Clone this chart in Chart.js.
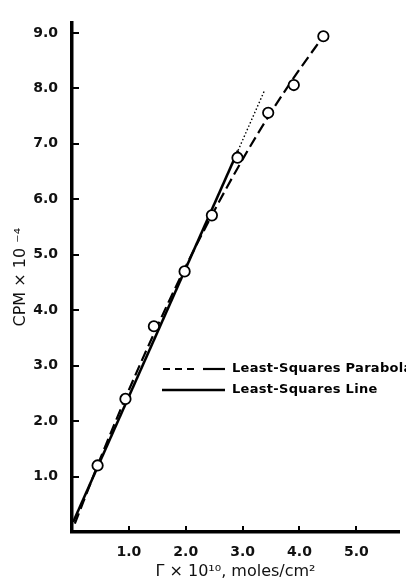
<!DOCTYPE html>
<html><head><meta charset="utf-8">
<script src="https://cdn.jsdelivr.net/npm/chart.js@4.4.1/dist/chart.umd.min.js"></script>
<style>html,body{margin:0;padding:0;background:#fff;overflow:hidden}#wrap{position:relative;width:406px;height:585px}</style>
</head><body><div id="wrap"><canvas id="c" width="406" height="585"></canvas></div>
<script>
// measured data (open circles)
const measuredX = [0.45, 0.94, 1.44, 1.98, 2.46, 2.91, 3.45, 3.90, 4.42];
const measuredY = [1.20, 2.40, 3.71, 4.70, 5.71, 6.75, 7.56, 8.06, 8.94];
// least-squares parabola
const parabolaX = [0.05, 0.5, 1.0, 1.5, 2.0, 2.5, 3.0, 3.5, 4.0, 4.42];
const parabolaY = [0.15, 1.33, 2.56, 3.71, 4.79, 5.79, 6.72, 7.57, 8.34, 8.94];
// least-squares line (solid part, then dotted extension)
const lineX = [0.02, 2.92];
const lineY = [0.18, 6.88];
const lineExtX = [2.92, 3.38];
const lineExtY = [6.88, 7.95];
// tick labels
const xTickLabels = ['1.0', '2.0', '3.0', '4.0', '5.0'];
const yTickLabels = ['1.0', '2.0', '3.0', '4.0', '5.0', '6.0', '7.0', '8.0', '9.0'];
const legendLabels = ['Least-Squares Parabola', 'Least-Squares Line'];
const xTitle = 'Γ × 10¹⁰, moles/cm²';
const yTitle = 'CPM × 10 ⁻⁴';

const pts = (xs, ys) => xs.map((x, i) => ({x: x, y: ys[i]}));

const extras = {
  id: 'extras',
  afterDraw(chart) {
    const ctx = chart.ctx;
    const xs = chart.scales.x, ys = chart.scales.y;
    const a = chart.chartArea;
    ctx.save();
    ctx.strokeStyle = '#000';
    ctx.lineWidth = 2;
    ctx.setLineDash([]);
    // inward tick marks
    ys.ticks.forEach(t => {
      if (t.value < 1) return;
      const py = Math.round(ys.getPixelForValue(t.value));
      ctx.beginPath(); ctx.moveTo(a.left, py); ctx.lineTo(a.left + 7, py); ctx.stroke();
    });
    xs.ticks.forEach(t => {
      if (t.value < 1) return;
      const px = Math.round(xs.getPixelForValue(t.value));
      ctx.beginPath(); ctx.moveTo(px, a.bottom); ctx.lineTo(px, a.bottom - 6); ctx.stroke();
    });
    // legend
    const lx0 = 163, lx1 = 225, ly0 = 369, ly1 = 390, tx = 232;
    ctx.lineWidth = 2.2;
    ctx.setLineDash([7, 5]);
    ctx.beginPath(); ctx.moveTo(lx0, ly0); ctx.lineTo(lx0 + 36, ly0); ctx.stroke();
    ctx.setLineDash([]);
    ctx.beginPath(); ctx.moveTo(lx0 + 40, ly0); ctx.lineTo(lx1, ly0); ctx.stroke();
    ctx.lineWidth = 2.6;
    ctx.beginPath(); ctx.moveTo(lx0 - 1, ly1); ctx.lineTo(lx1, ly1); ctx.stroke();
    ctx.fillStyle = '#000';
    ctx.font = 'bold 13px "DejaVu Sans"';
    try { ctx.letterSpacing = '0.3px'; } catch (e) {}
    ctx.textBaseline = 'middle';
    ctx.textAlign = 'left';
    ctx.fillText(legendLabels[0], tx, ly0);
    ctx.fillText(legendLabels[1], tx, ly1);
    ctx.restore();
  }
};

new Chart(document.getElementById('c'), {
  type: 'line',
  data: {
    datasets: [
      {
        label: 'Measured', data: pts(measuredX, measuredY), showLine: false,
        pointRadius: 5.2, pointHoverRadius: 5.2, pointBackgroundColor: '#fff',
        pointBorderColor: '#000', pointBorderWidth: 1.8, borderColor: '#000'
      },
      {
        label: legendLabels[0], data: pts(parabolaX, parabolaY), borderColor: '#000',
        borderWidth: 2.2, borderDash: [11, 5], pointRadius: 0, cubicInterpolationMode: 'monotone', fill: false
      },
      {
        label: legendLabels[1], data: pts(lineX, lineY), borderColor: '#000',
        borderWidth: 2.6, pointRadius: 0, fill: false
      },
      {
        label: 'extension', data: pts(lineExtX, lineExtY), borderColor: '#000',
        borderWidth: 1.4, borderDash: [1.5, 2.2], pointRadius: 0, fill: false
      }
    ]
  },
  options: {
    responsive: false, animation: false, devicePixelRatio: 1,
    layout: {padding: {top: 12, right: 0, left: 0, bottom: 0}},
    plugins: {legend: {display: false}, tooltip: {enabled: false}},
    events: [],
    scales: {
      x: {
        type: 'linear', position: 'bottom', min: 0, max: 5.75,
        grid: {display: false, drawTicks: false},
        border: {display: true, color: '#000', width: 3.5},
        ticks: {
          stepSize: 1, includeBounds: false, autoSkip: false, maxRotation: 0, padding: 12,
          color: '#111', font: {family: 'DejaVu Sans', size: 14, weight: 'bold'},
          callback: v => (Number.isInteger(v) && v >= 1 && v <= xTickLabels.length) ? xTickLabels[v - 1] : ''
        },
        title: {display: true, text: xTitle, color: '#111', font: {family: 'DejaVu Sans', size: 16}, padding: {top: 0, bottom: 4}},
        afterFit: s => { s.height = 53; }
      },
      y: {
        type: 'linear', position: 'left', min: 0, max: 9.19,
        grid: {display: false, drawTicks: false},
        border: {display: true, color: '#000', width: 3.5},
        ticks: {
          stepSize: 1, includeBounds: false, autoSkip: false, padding: 14,
          color: '#111', font: {family: 'DejaVu Sans', size: 14, weight: 'bold'},
          callback: v => (Number.isInteger(v) && v >= 1 && v <= yTickLabels.length) ? yTickLabels[v - 1] : ''
        },
        title: {display: true, text: yTitle, color: '#111', font: {family: 'DejaVu Sans', size: 16}, padding: {top: 11, bottom: 0}},
        afterFit: s => { s.width = 72; }
      }
    }
  },
  plugins: [extras]
});
</script>
</body></html>
